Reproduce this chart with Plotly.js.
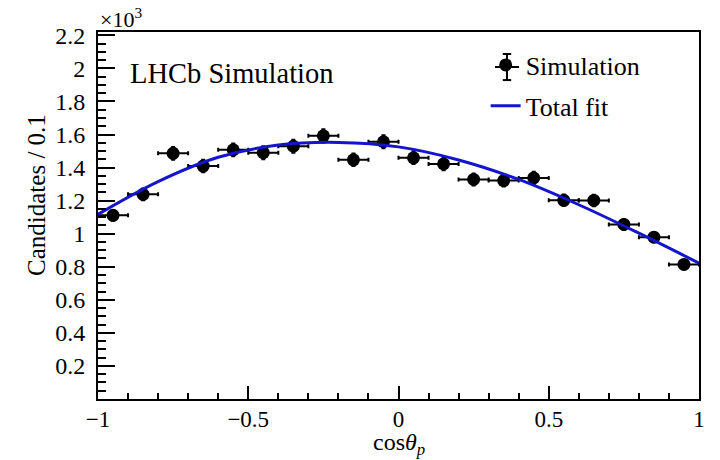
<!DOCTYPE html>
<html>
<head>
<meta charset="utf-8">
<script src="https://cdn.plot.ly/plotly-3.0.1.min.js"></script>
<style>html,body{margin:0;padding:0;background:#fff}#chart{width:720px;height:460px}</style>
</head>
<body>
<div id="chart"></div>
<script>
// Simulation histogram: bin centres, bin half-widths, counts and errors
const binCentres = [-0.95,-0.85,-0.75,-0.65,-0.55,-0.45,-0.35,-0.25,-0.15,-0.05,0.05,0.15,0.25,0.35,0.45,0.55,0.65,0.75,0.85,0.95];
const binHalfWidth = [0.05,0.05,0.05,0.05,0.05,0.05,0.05,0.05,0.05,0.05,0.05,0.05,0.05,0.05,0.05,0.05,0.05,0.05,0.05,0.05];
const counts = [1111,1238,1486,1409,1507,1490,1529,1592,1447,1556,1459,1422,1328,1321,1337,1202,1201,1056,979,814];
const countErrors = [33,35,39,38,39,39,39,40,38,39,38,38,36,36,37,35,35,32,31,29];

// Total fit curve
const fitX = [-1,-0.8,-0.6,-0.4,-0.2,0,0.2,0.4,0.6,0.8,1];
const fitY = [1117,1315,1462,1536,1552,1525,1446,1328,1175,1003,822];

// Y tick labels (in units of 10^3)
const yTickVals = [200,400,600,800,1000,1200,1400,1600,1800,2000,2200];
const yTickText = ["0.2","0.4","0.6","0.8","1","1.2","1.4","1.6","1.8","2","2.2"];

const serif = "Liberation Serif, Times New Roman, serif";

const traces = [
  {
    x: binCentres, y: counts, type: "scatter", mode: "markers", name: "Simulation",
    marker: {color: "#000", size: 13, symbol: "circle"},
    error_x: {type: "data", array: binHalfWidth, visible: true, color: "#000", thickness: 2, width: 2},
    error_y: {type: "data", array: countErrors, visible: true, color: "#000", thickness: 2, width: 2},
    legendgroup: "a"
  },
  {
    x: fitX, y: fitY, type: "scatter", mode: "lines", name: "Total fit",
    line: {color: "rgb(20,20,205)", width: 3, shape: "spline"},
    legendgroup: "b"
  }
];

// legend symbol error-bar cross (paper coordinates, decoration only)
const lx = 0.6805, lyTop = 0.940, lyBot = 0.869, lyMid = 0.9046, lxL = 0.6606, lxR = 0.7005, cap = 0.007;
const ln = {color: "#000", width: 2};

const layout = {
  width: 720, height: 460,
  margin: {l: 98, r: 21, t: 32, b: 61},
  paper_bgcolor: "#fff", plot_bgcolor: "#fff",
  font: {family: serif, color: "#000", size: 24},
  showlegend: true,
  legend: {
    x: 0.645, y: 0.974, xanchor: "left", yanchor: "top",
    font: {family: serif, size: 26, color: "#000"},
    bgcolor: "rgba(0,0,0,0)", traceorder: "grouped", tracegroupgap: 4
  },
  xaxis: {
    range: [-1, 1], tickmode: "linear", tick0: -1, dtick: 0.5,
    ticks: "inside", ticklen: 13, tickwidth: 2, tickcolor: "#000",
    minor: {dtick: 0.1, tick0: -1, ticks: "inside", ticklen: 6, tickwidth: 2, tickcolor: "#000"},
    showline: true, linewidth: 2, linecolor: "#000", mirror: true,
    showgrid: false, zeroline: false,
    ticklabelstandoff: -2,
    tickfont: {family: serif, size: 23, color: "#000"}
  },
  yaxis: {
    range: [0, 2220], tickmode: "array", tickvals: yTickVals, ticktext: yTickText,
    ticks: "inside", ticklen: 17, tickwidth: 2, tickcolor: "#000",
    minor: {dtick: 50, tick0: 0, ticks: "inside", ticklen: 8, tickwidth: 2, tickcolor: "#000"},
    showline: true, linewidth: 2, linecolor: "#000", mirror: true,
    showgrid: false, zeroline: false,
    ticklabelstandoff: 6,
    tickfont: {family: serif, size: 24, color: "#000"}
  },
  shapes: [
    {type: "line", xref: "paper", yref: "paper", x0: lx, x1: lx, y0: lyBot, y1: lyTop, line: ln},
    {type: "line", xref: "paper", yref: "paper", x0: lx - cap, x1: lx + cap, y0: lyTop, y1: lyTop, line: ln},
    {type: "line", xref: "paper", yref: "paper", x0: lx - cap, x1: lx + cap, y0: lyBot, y1: lyBot, line: ln},
    {type: "line", xref: "paper", yref: "paper", x0: lxL, x1: lxR, y0: lyMid, y1: lyMid, line: ln}
  ],
  annotations: [
    {xref: "paper", yref: "paper", x: 0, y: 1, xanchor: "left", yanchor: "bottom",
     text: "×10<sup>3</sup>", showarrow: false, font: {family: serif, size: 22, color: "#000"}, yshift: -2},
    {xref: "paper", yref: "paper", x: 0.05, y: 0.888, xanchor: "left", yanchor: "middle",
     text: "LHCb Simulation", showarrow: false, font: {family: serif, size: 28.5, color: "#000"}},
    {xref: "paper", yref: "paper", x: -0.1015, y: 0.556, xanchor: "center", yanchor: "middle",
     text: "Candidates / 0.1", textangle: -90, showarrow: false, font: {family: serif, size: 25, color: "#000"}},
    {xref: "paper", yref: "paper", x: 0.5, y: -0.123, xanchor: "center", yanchor: "middle",
     text: "cos<i>θ</i><sub><i>p</i></sub>", showarrow: false, font: {family: serif, size: 24, color: "#000"}}
  ]
};

Plotly.newPlot("chart", traces, layout, {displayModeBar: false, staticPlot: true});
</script>
</body>
</html>
